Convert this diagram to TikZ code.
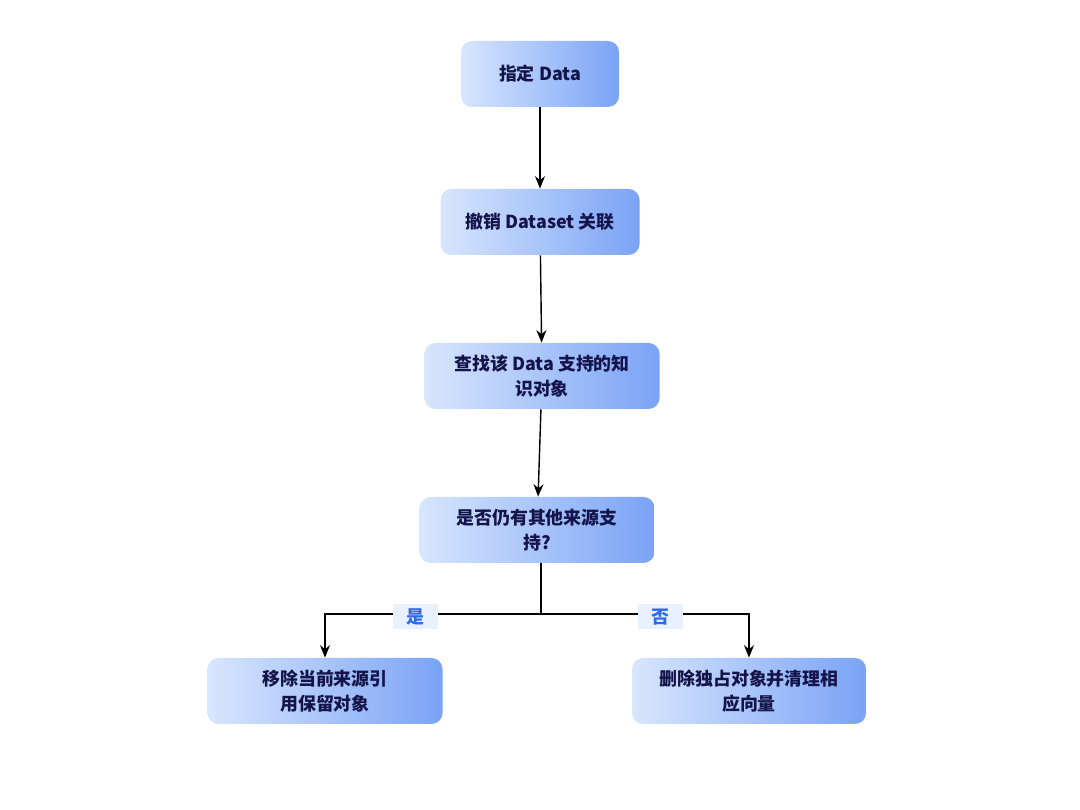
\documentclass[tikz,border=0pt]{standalone}
\usepackage{fontspec}
\setmainfont{Noto Sans CJK SC}
\usetikzlibrary{arrows.meta}
\definecolor{boxleft}{HTML}{D8E6FD}
\definecolor{boxright}{HTML}{7AA3F6}
\definecolor{boxtext}{HTML}{14144A}
\definecolor{lbltext}{HTML}{2D6BEA}
\definecolor{lblfill}{HTML}{E8F1FD}

\begin{document}
\begin{tikzpicture}[
			every node/.style={font=\bfseries\fontsize{10.2}{14}\selectfont, align=center},
			stage/.style={rounded corners=0.22cm, left color=boxleft, right color=boxright, text=boxtext, minimum height=1.32cm, inner sep=2pt},
			lbl/.style={fill=lblfill, text=lbltext, minimum width=0.9cm, minimum height=0.5cm, inner sep=1pt},
			flow/.style={draw, thick, -{Stealth[length=2.5mm, width=2mm]}}
			]
			\useasboundingbox (0,0) rectangle (21.6,16.2);
			\node[stage, minimum width=3.16cm] (data) at (10.8,14.72) {指定 Data};
			\node[stage, minimum width=3.98cm] (unlink) at (10.8,11.76) {撤销 Dataset 关联};
			\node[stage, minimum width=4.7cm] (find) at (10.84,8.68) {查找该 Data 支持的知\\识对象};
			\node[stage, minimum width=4.7cm] (check) at (10.74,5.6) {是否仍有其他来源支\\持?};
			\node[stage, minimum width=4.7cm] (keep) at (6.5,2.38) {移除当前来源引\\用保留对象};
			\node[stage, minimum width=4.68cm] (purge) at (14.98,2.38) {删除独占对象并清理相\\应向量};
			\coordinate (split) at (10.82,3.92);
			\draw[flow] (data) -- (unlink);
			\draw[flow] (unlink) -- (find);
			\draw[flow] (find) -- (check);
			\draw[thick] (check.south -| split) -- (split);
			\draw[flow] (split) -| (keep.north);
			\draw[flow] (split) -| (purge.north);
			\node[lbl] (yes) at (8.3,3.86) {是};
			\node[lbl] (no) at (13.2,3.86) {否};
\end{tikzpicture}
\end{document}
